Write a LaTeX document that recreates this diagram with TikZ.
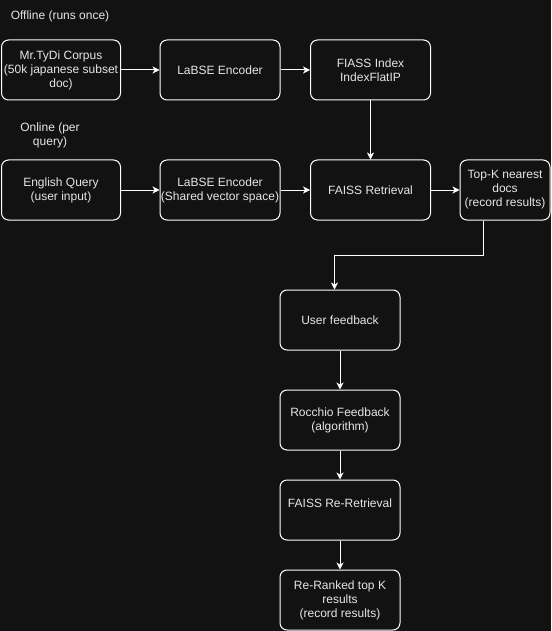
\documentclass[tikz,border=0pt]{standalone}
\usepackage{fontspec}
\setmainfont{Liberation Sans}
\usetikzlibrary{arrows.meta}
\definecolor{bg}{HTML}{121212}
\definecolor{txt}{HTML}{E6E6E6}
\tikzset{
  box/.style={draw=white, line width=1pt, rounded corners=7pt, minimum width=120pt, minimum height=60pt,
    inner sep=0pt, align=center, text=txt, font=\fontsize{12}{14}\selectfont},
  lbl/.style={text=txt, align=center, font=\fontsize{12}{14}\selectfont, inner sep=0pt},
  conn/.style={draw=white, line width=1pt, -{Stealth[length=7pt,width=7pt,inset=2pt]}}
}
\begin{document}
\begin{tikzpicture}[x=1pt,y=-1pt]
\fill[bg] (0,0) rectangle (551,631);
\useasboundingbox (0,0) rectangle (551,631);
\node[lbl] (off) at (60,16) {Offline (runs once)};
\node[lbl] (on) at (50,135.5) {Online (per\\query)};
\node[box, minimum width=119pt] (corpus) at (61,70) {Mr.TyDi Corpus\\(50k japanese subset\\doc)};
\node[box] (enc1) at (220,70) {LaBSE Encoder};
\node[box] (index) at (370.5,70) {FIASS Index\\IndexFlatIP};
\node[box, minimum width=119pt] (query) at (61,190) {English Query\\(user input)};
\node[box] (enc2) at (220,190) {LaBSE Encoder\\(Shared vector space)};
\node[box] (ret) at (370.5,190) {FAISS Retrieval};
\node[box, minimum width=90pt] (topk) at (505,190) {Top-K nearest\\docs\\(record results)};
\node[box] (fb) at (340,320) {User feedback};
\node[box] (roc) at (340,420) {Rocchio Feedback\\(algorithm)};
\node[box] (rer) at (340,510) {};
\node[lbl] (rertxt) at (340,503) {FAISS Re-Retrieval};
\node[box] (rank) at (340,600) {Re-Ranked top K\\results\\(record results)};
\coordinate (c1) at (483,255);
\coordinate (c2) at (334.5,255);
\draw[conn] (corpus) -- (enc1);
\draw[conn] (enc1) -- (index);
\draw[conn] (index) -- (ret);
\draw[conn] (query) -- (enc2);
\draw[conn] (enc2) -- (ret);
\draw[conn] (ret) -- (topk);
\draw[conn] (topk.south -| c1) -- (c1) -- (c2) -- (c2 |- fb.north);
\draw[conn] (fb) -- (roc);
\draw[conn] (roc) -- (rer);
\draw[conn] (rer) -- (rank);
\end{tikzpicture}
\end{document}
